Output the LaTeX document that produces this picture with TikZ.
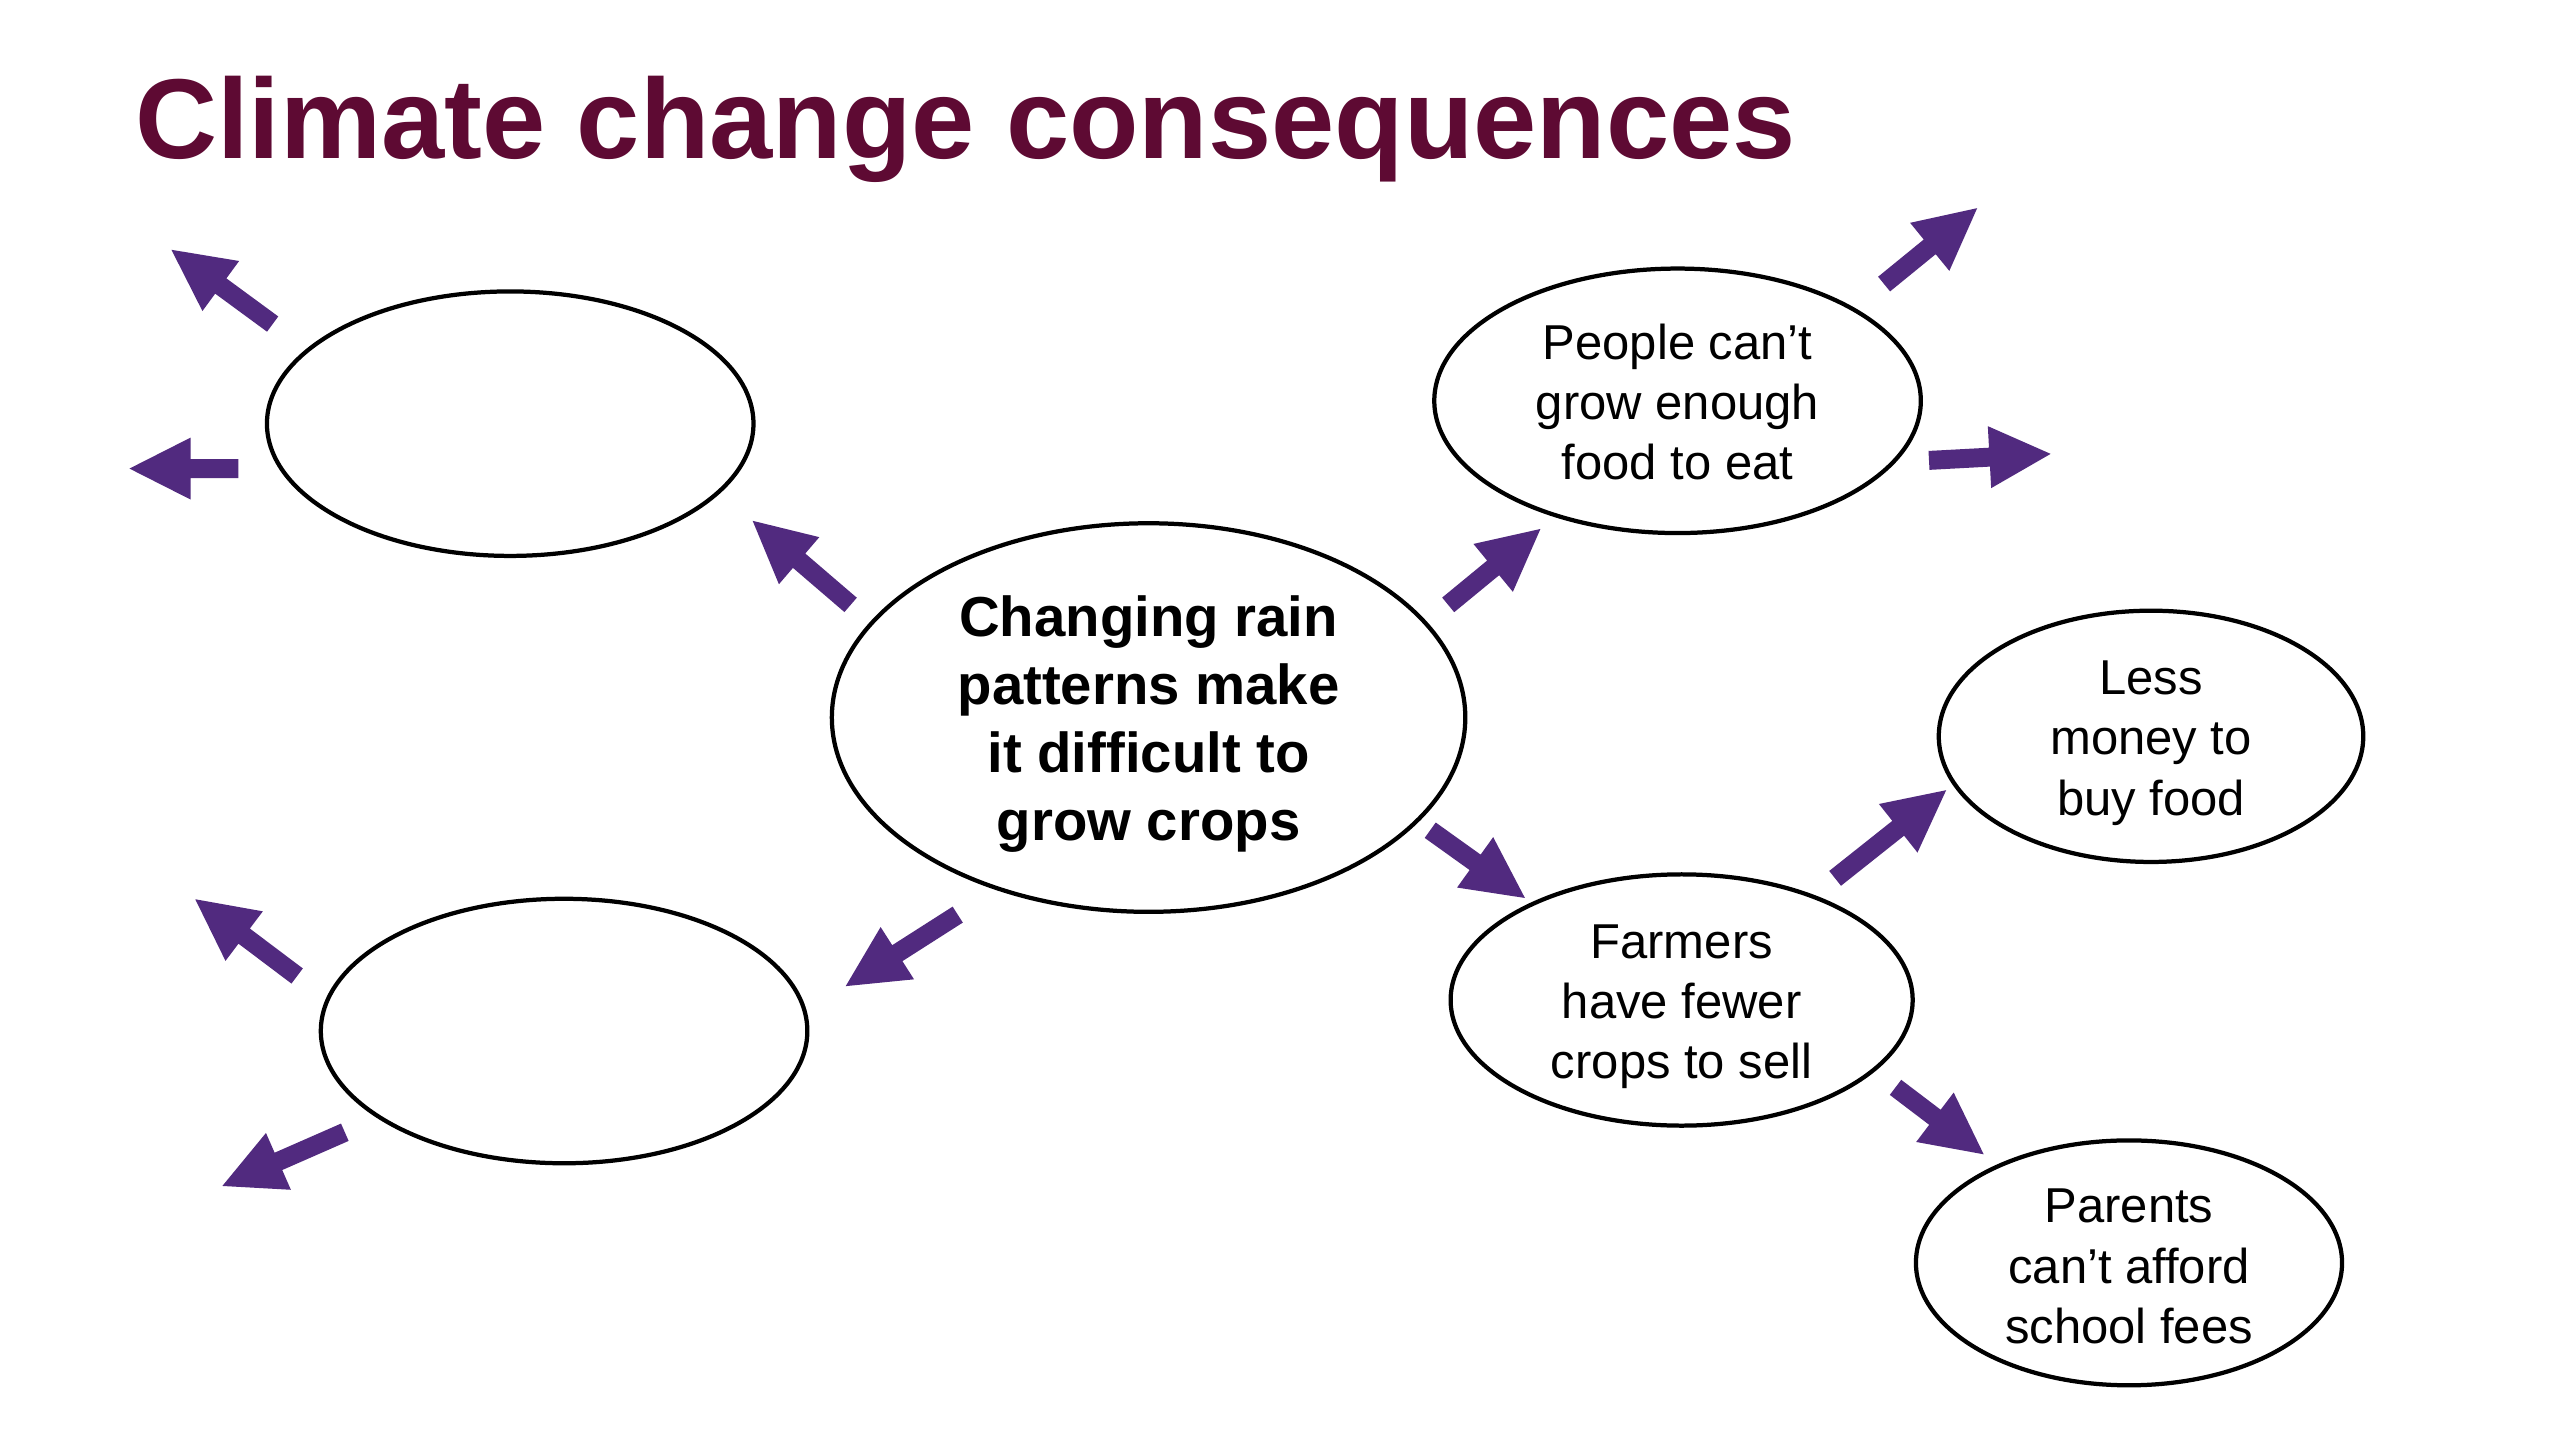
\documentclass[tikz,border=0pt]{standalone}
\usepackage{fontspec}
\setmainfont{Liberation Sans}
\usetikzlibrary{shapes.geometric,calc}
\definecolor{titlecol}{HTML}{5E0A33}
\definecolor{arrowcol}{HTML}{512A7F}
\newcommand{\blockarrow}[2]{%
  \coordinate (bb) at ($(#2)!37.5pt!(#1)$);
  \fill[arrowcol] ($(#1)!5.8pt!90:(#2)$) -- ($(bb)!5.8pt!90:(#2)$) -- ($(bb)!19pt!90:(#2)$) -- (#2) -- ($(bb)!19pt!-90:(#2)$) -- ($(bb)!5.8pt!-90:(#2)$) -- ($(#1)!5.8pt!-90:(#2)$) -- cycle;}
\newcommand{\lowstrut}[1]{\rule{0pt}{#1}}
\begin{document}
\begin{tikzpicture}[x=1pt,y=-1pt,
  bubble/.style={ellipse, draw=black, line width=2.6pt, inner sep=0pt, align=center,
    font=\fontsize{30}{36.8}\selectfont},
  small/.style={minimum width=298pt, minimum height=162pt}]
\useasboundingbox (0,0) rectangle (1568,882);
\fill[white] (0,0) rectangle (1568,882);

\node[anchor=base west, inner sep=0pt, text=titlecol,
  font=\fontsize{69.6}{84}\selectfont\bfseries] (title) at (82.5,97) {Climate change consequences};

\node[bubble, small] (tl) at (312.5,259.5) {};
\node[bubble, small] (bl) at (345.5,631.5) {};
\node[bubble, minimum width=388pt, minimum height=238pt,
  font=\fontsize{34.5}{41.5}\selectfont\bfseries] (c) at (703.5,439.5)
  {\lowstrut{33pt}Changing rain\\patterns make\\it difficult to\\grow crops};
\node[bubble, small] (people) at (1027.5,245.5) {\lowstrut{23.5pt}People can’t\\grow enough\\food to eat};
\node[bubble, minimum width=260pt, minimum height=149pt] (less) at (1317.5,451) {\lowstrut{29pt}Less\\money to\\buy food};
\node[bubble, minimum width=283pt, minimum height=150pt] (farm) at (1030,612.5) {\lowstrut{29pt}Farmers\\have fewer\\crops to sell};
\node[bubble, minimum width=261pt, minimum height=150pt] (par) at (1304,773.5) {\lowstrut{25pt}Parents\\can’t afford\\school fees};

\coordinate (a1s) at (167,198.5);   \coordinate (a1e) at (105,153);
\coordinate (a2s) at (146,287);     \coordinate (a2e) at (79.3,287);
\coordinate (a3s) at (521,370.5);   \coordinate (a3e) at (461,319);
\coordinate (a4s) at (586.6,560.2); \coordinate (a4e) at (518,604);
\coordinate (a5s) at (182,597.8);   \coordinate (a5e) at (119.6,550.8);
\coordinate (a6s) at (211.2,693.5); \coordinate (a6e) at (136.2,726.4);
\coordinate (a7s) at (887,370.5);   \coordinate (a7e) at (943.5,324);
\coordinate (a8s) at (1154,174);    \coordinate (a8e) at (1211,127.5);
\coordinate (a9s) at (1181.5,282);  \coordinate (a9e) at (1256,278);
\coordinate (a10s) at (876,508.5);  \coordinate (a10e) at (934,550);
\coordinate (a11s) at (1124,538);   \coordinate (a11e) at (1192,484);
\coordinate (a12s) at (1161,666);   \coordinate (a12e) at (1215,707);

\blockarrow{a1s}{a1e}
\blockarrow{a2s}{a2e}
\blockarrow{a3s}{a3e}
\blockarrow{a4s}{a4e}
\blockarrow{a5s}{a5e}
\blockarrow{a6s}{a6e}
\blockarrow{a7s}{a7e}
\blockarrow{a8s}{a8e}
\blockarrow{a9s}{a9e}
\blockarrow{a10s}{a10e}
\blockarrow{a11s}{a11e}
\blockarrow{a12s}{a12e}
\end{tikzpicture}
\end{document}
